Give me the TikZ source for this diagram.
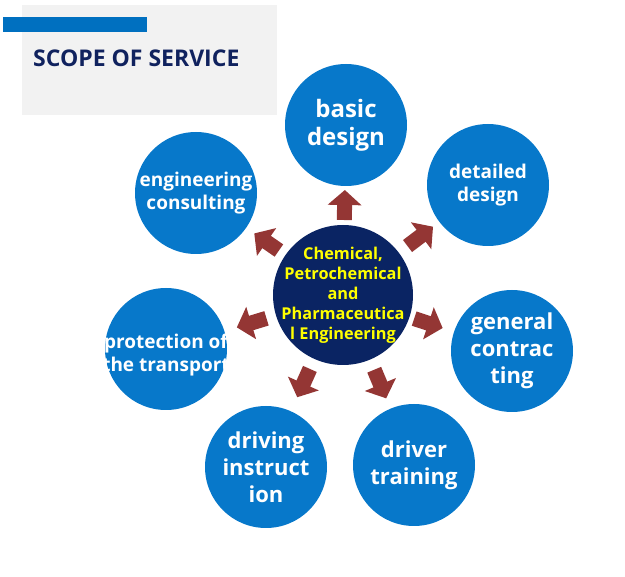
\documentclass[tikz,border=0pt]{standalone}
\usepackage{fontspec}
\setmainfont{Open Sans}
\usetikzlibrary{arrows.meta,calc}
\definecolor{svcblue}{HTML}{0778CA}
\definecolor{hubnavy}{HTML}{0A2463}
\definecolor{hubtext}{HTML}{FFFF00}
\definecolor{pushred}{HTML}{943634}
\definecolor{titlenavy}{HTML}{10225E}
\definecolor{barblue}{HTML}{0070C0}
\definecolor{panelgray}{HTML}{F2F2F2}
\tikzset{
  svc/.style={circle,fill=svcblue,inner sep=0pt,minimum size=122pt},
  hub/.style={circle,fill=hubnavy,inner sep=0pt,minimum size=140pt},
  hubtxt/.style={text=hubtext,align=center,inner sep=0pt,font=\bfseries\fontsize{16.3}{20}\selectfont},
  bigtxt/.style={text=white,align=center,inner sep=0pt,font=\bfseries\fontsize{24}{28}\selectfont},
  midtxt/.style={text=white,align=center,inner sep=0pt,font=\bfseries\fontsize{22}{27}\selectfont},
  smalltxt/.style={text=white,align=center,inner sep=0pt,font=\bfseries\fontsize{19}{22.5}\selectfont},
  push/.style={draw=pushred,line width=15pt,-{Triangle[width=33pt,length=15pt]}},
}
\begin{document}
\begin{tikzpicture}[x=1pt,y=-1pt]
\useasboundingbox (0,0) rectangle (625,577);
% header panel
\fill[panelgray] (22,5) rectangle (277,115);
\fill[barblue] (3,17) rectangle (147,32);
\node[anchor=base west,inner sep=0pt,text=titlenavy,font=\bfseries\fontsize{23}{27}\selectfont] (title) at (33,67) {SCOPE OF SERVICE};
% circles
\node[hub] (hub) at (343,295) {};
\node[svc] (basic) at (346,125) {};
\node[svc] (detail) at (488,185) {};
\node[svc] (consult) at (196,193) {};
\node[svc] (protect) at (166,349) {};
\node[svc] (contract) at (512,351) {};
\node[svc] (instruct) at (266,467) {};
\node[svc] (training) at (414,465) {};
% texts
\node[hubtxt] at (hub) {Chemical,\\Petrochemical\\and\\Pharmaceutica\\l Engineering};
\node[bigtxt] at (basic) {basic\\design};
\node[smalltxt] at (detail) {detailed\\design};
\node[smalltxt] at (consult) {engineering\\consulting};
\node[smalltxt] at ([yshift=-6pt]protect.center) {protection of\\the transport};
\node[midtxt] at (contract) {general\\contrac\\ting};
\node[midtxt] at (instruct) {driving\\instruct\\ion};
\node[midtxt] at (training) {driver\\training};
% arrows
\draw[push] ($(hub)!75pt!(basic)$) -- ($(hub)!105pt!(basic)$);
\draw[push] ($(hub)!81pt!(detail)$) -- ($(hub)!113pt!(detail)$);
\draw[push] ($(hub)!78pt!(consult)$) -- ($(hub)!108pt!(consult)$);
\draw[push] ($(hub)!80pt!(protect)$) -- ($(hub)!111pt!(protect)$);
\draw[push] ($(hub)!75pt!(contract)$) -- ($(hub)!105pt!(contract)$);
\draw[push] ($(hub)!81pt!(instruct)$) -- ($(hub)!112pt!(instruct)$);
\draw[push] ($(hub)!81pt!(training)$) -- ($(hub)!112pt!(training)$);
\end{tikzpicture}
\end{document}
